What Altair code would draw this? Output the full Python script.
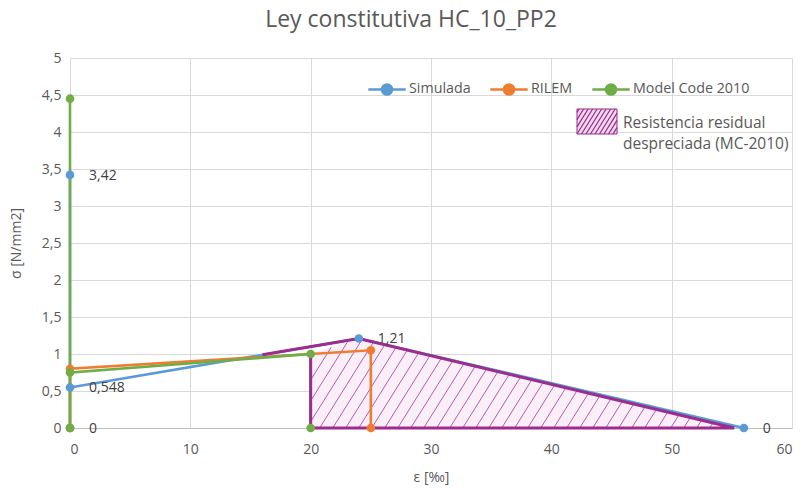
import altair as alt
import pandas as pd
import numpy as np

# ---------------- data ----------------
series_names = ["Simulada", "RILEM", "Model Code 2010"]
series_colors = ["#5B9BD5", "#ED7D31", "#70AD47"]

sim_x = [0, 0, 0, 24, 56]
sim_y = [0, 3.42, 0.548, 1.21, 0]
sim_labels = ["0", "3,42", "0,548", "1,21", "0"]

ril_x = [0, 0, 25, 25]
ril_y = [0, 0.80, 1.05, 0]

mc_x = [0, 0, 0, 20, 20]
mc_y = [0, 4.45, 0.75, 1.0, 0]

# neglected residual resistance region (MC-2010)
zone_x = [20, 24, 55.2]
zone_y = [1.0, 1.21, 0]
outline_x = [16, 24, 55.2, 20, 20]
outline_y = [0.99, 1.21, 0, 0, 1.0]
zone_label = ["Resistencia residual", "despreciada (MC-2010)"]

x_ticks = [0, 10, 20, 30, 40, 50, 60]
y_ticks = [0, 0.5, 1, 1.5, 2, 2.5, 3, 3.5, 4, 4.5, 5]

# ---------------- layout ----------------
W, H = 722, 370
PAD = {"left": 70, "top": 58, "right": 11, "bottom": 60}
FONT = "Open Sans"
GREY = "#595959"
MAGENTA = "#9B2D8E"
HATCH = "#B04AA2"

rows = []
for name, xs_, ys_ in [("Simulada", sim_x, sim_y), ("RILEM", ril_x, ril_y),
                       ("Model Code 2010", mc_x, mc_y)]:
    for i, (xv, yv) in enumerate(zip(xs_, ys_)):
        rows.append({"serie": name, "i": i, "x": xv, "y": yv})
df = pd.DataFrame(rows)
df_lab = pd.DataFrame({"x": sim_x, "y": sim_y, "label": sim_labels})


def clip(poly, p0, d):
    poly = np.asarray(poly, float)
    n = len(poly)
    area = sum(poly[k, 0] * poly[(k + 1) % n, 1] - poly[(k + 1) % n, 0] * poly[k, 1] for k in range(n))
    sg = 1 if area > 0 else -1
    tlo, thi = -1e9, 1e9
    for k in range(n):
        a, b = poly[k], poly[(k + 1) % n]
        e = b - a
        c0 = sg * (e[0] * (p0[1] - a[1]) - e[1] * (p0[0] - a[0]))
        c1 = sg * (e[0] * d[1] - e[1] * d[0])
        if abs(c1) < 1e-12:
            if c0 < 0:
                return None
            continue
        r = -c0 / c1
        if c1 > 0:
            tlo = max(tlo, r)
        else:
            thi = min(thi, r)
    if tlo >= thi:
        return None
    return (p0[0] + tlo * d[0], p0[1] + tlo * d[1], p0[0] + thi * d[0], p0[1] + thi * d[1])


ang = np.deg2rad(58)
sx, sy = W / 60, H / 5
poly_px = [(20 * sx, 0), (55.2 * sx, 0), (24 * sx, 1.21 * sy), (20 * sx, 1.0 * sy)]
hr = []
for xb in np.arange(20 * sx - 1.21 * sy / np.tan(ang), 55.2 * sx, 13.0):
    seg = clip(poly_px, (xb, 0.0), (np.cos(ang), np.sin(ang)))
    if seg:
        hr.append({"x": seg[0] / sx, "y": seg[1] / sy, "x2": seg[2] / sx, "y2": seg[3] / sy})
df_hatch = pd.DataFrame(hr)

# swatch for the region legend (pixel space in view)
sw = [(507, 51), (547, 51), (547, 76), (507, 76)]
sr = []
for xb in np.arange(480, 560, 4.5):
    seg = clip(sw, (xb, 76.0), (np.cos(ang), -np.sin(ang)))
    if seg:
        sr.append({"x": seg[0], "y": seg[1], "x2": seg[2], "y2": seg[3]})
df_sw = pd.DataFrame(sr)

X = alt.X("x:Q", scale=alt.Scale(domain=[0, 60], nice=False, zero=False),
          axis=alt.Axis(values=x_ticks, title="ε [‰]", grid=True, gridColor="#D9D9D9",
                        domain=True, domainColor="#BFBFBF", ticks=False,
                        labelPadding=14, titlePadding=14))
Y = alt.Y("y:Q", scale=alt.Scale(domain=[0, 5], nice=False, zero=False),
          axis=alt.Axis(values=y_ticks, title="σ [N/mm2]", grid=True, gridColor="#D9D9D9",
                        domain=False, ticks=False, labelOverlap=False,
                        labelExpr="replace(format(datum.value, '~g'), '.', ',')",
                        labelPadding=9, titlePadding=18))
color = alt.Color(
    "serie:N",
    scale=alt.Scale(domain=series_names, range=series_colors),
    sort=series_names,
    legend=alt.Legend(
        title=None, orient="none", legendX=297, legendY=11, direction="horizontal",
        symbolType="M-1,0H1M0.27,0A0.27,0.27,0,1,1,-0.27,0A0.27,0.27,0,1,1,0.27,0",
        symbolSize=1400, symbolStrokeWidth=2.5, labelFont=FONT, labelFontSize=14.3,
        labelColor=GREY, columnPadding=14, labelOffset=2,
    ),
)

base = alt.Chart(df)
zone = alt.Chart(pd.DataFrame({"x": zone_x, "y": zone_y})).mark_area(
    color="#FAEEF8", opacity=1
).encode(x=X, y=Y, y2=alt.datum(0))
hatch = alt.Chart(df_hatch).mark_rule(color=HATCH, strokeWidth=0.9).encode(
    x=X, y=Y, x2="x2:Q", y2="y2:Q"
)
lines = base.mark_line(strokeWidth=2.6).encode(x=X, y=Y, color=color, order="i:Q")
outline = alt.Chart(pd.DataFrame({"x": outline_x, "y": outline_y, "i": range(len(outline_x))})).mark_line(
    color=MAGENTA, strokeWidth=3
).encode(x=X, y=Y, order="i:Q")
pts = base.mark_point(filled=True, size=75, opacity=1).encode(x=X, y=Y, color=color)

labels = alt.Chart(df_lab).mark_text(
    align="left", baseline="middle", dx=19, dy=1, font=FONT, fontSize=14, color="#404040"
).encode(x=X, y=Y, text="label:N")

# region legend
sw_rect = alt.Chart(pd.DataFrame({"a": [0]})).mark_rect(
    fill="#F3D9EE", stroke=MAGENTA, strokeWidth=1
).encode(x=alt.value(sw[0][0]), x2=alt.value(sw[1][0]), y=alt.value(sw[0][1]), y2=alt.value(sw[2][1]))
sw_hatch = alt.Chart(df_sw).mark_rule(color=MAGENTA, strokeWidth=1.3).encode(
    x=alt.X("x:Q", scale=None), y=alt.Y("y:Q", scale=None), x2="x2:Q", y2="y2:Q"
)
sw_text = alt.Chart(pd.DataFrame({"t": [zone_label]})).mark_text(
    align="left", baseline="middle", font=FONT, fontSize=15.5, color=GREY, lineHeight=21
).encode(x=alt.value(553), y=alt.value(65), text="t")

chart = alt.layer(
    zone, hatch, lines, outline, pts, labels, sw_rect, sw_hatch, sw_text
).properties(
    width=W, height=H,
    autosize=alt.AutoSizeParams(type="none"),
    padding=PAD,
    title=alt.TitleParams("Ley constitutiva HC_10_PP2", font=FONT, fontSize=23, fontWeight="normal",
                          color=GREY, anchor="middle", dx=-20, offset=19),
).configure_view(stroke=None).configure_axis(
    labelFont=FONT, labelFontSize=14, labelColor=GREY, titleFont=FONT, titleFontSize=14,
    titleColor=GREY, titleFontWeight="normal"
)

chart.save("out.html", embed_options={"renderer": "svg", "actions": False})
